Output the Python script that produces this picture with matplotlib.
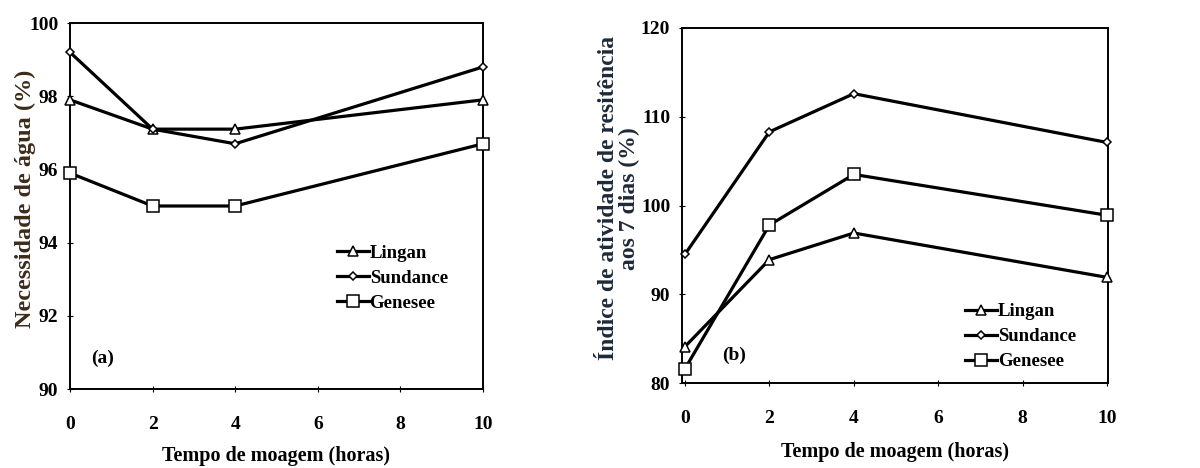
import matplotlib
matplotlib.use("Agg")
import matplotlib.pyplot as plt

plt.rcParams["font.family"] = ["Liberation Serif", "DejaVu Serif"]
plt.rcParams["font.weight"] = "bold"

# data
horas = [0, 2, 4, 10]
series = ["Lingan", "Sundance", "Genesee"]
agua_lingan = [97.9, 97.1, 97.1, 97.9]
agua_sundance = [99.2, 97.1, 96.7, 98.8]
agua_genesee = [95.9, 95.0, 95.0, 96.7]
iar_lingan = [84.1, 93.9, 96.9, 91.9]
iar_sundance = [94.5, 108.3, 112.6, 107.1]
iar_genesee = [81.6, 97.8, 103.5, 98.9]

mk = {"Lingan": dict(marker="^", ms=6.5), "Sundance": dict(marker="D", ms=4.5),
      "Genesee": dict(marker="s", ms=8)}

fig = plt.figure(figsize=(12, 4.68), dpi=100)
axA = fig.add_axes([70/1200, 1-389/468, 413/1200, 366/468])
axB = fig.add_axes([682/1200, 1-383/468, 426/1200, 355/468])

def panel(ax, vals, ylim, yticks, xlim, leg_xy):
    for name, v in zip(series, vals):
        ax.plot(horas, v, color="black", lw=2.3, mfc="white", mec="black", mew=1.1,
                label=name, clip_on=False, zorder=3, **mk[name])
    ax.set_xlim(*xlim); ax.set_ylim(*ylim)
    ax.set_xticks(range(0, 11, 2)); ax.set_yticks(yticks)
    ax.tick_params(axis="x", direction="inout", length=5, pad=17, labelsize=14)
    ax.tick_params(axis="y", direction="inout", length=5, pad=6, labelsize=14)
    for s in ax.spines.values():
        s.set_linewidth(1.4)
    ax.set_xlabel("Tempo de moagem (horas)", fontsize=14.5, fontweight="bold")
    ax.legend(loc="upper left", bbox_to_anchor=leg_xy, frameon=False, fontsize=13.5,
              handlelength=1.7, handletextpad=0.05, labelspacing=0.42,
              borderaxespad=0, borderpad=0)

panel(axA, [agua_lingan, agua_sundance, agua_genesee], (90, 100),
      range(90, 101, 2), (0, 10), (0.646, 0.395))
axA.set_ylabel("Necessidade de água (%)", fontsize=17.5, fontweight="bold", color="#3d2b1a")
axA.yaxis.set_label_coords(-0.082, 0.52)
axA.xaxis.set_label_coords(0.5, -0.155)
axA.text(0.05, 0.07, "(a)", transform=axA.transAxes, fontsize=14, fontweight="bold")

panel(axB, [iar_lingan, iar_sundance, iar_genesee], (80, 120),
      range(80, 121, 10), (-0.07, 10.02), (0.664, 0.225))
axB.set_ylabel("Índice de atividade de resitência\naos 7 dias (%)", fontsize=17,
               fontweight="bold", color="#1e2a38", linespacing=0.95)
axB.yaxis.set_label_coords(-0.099, 0.52)
axB.xaxis.set_label_coords(0.5, -0.165)
axB.text(0.095, 0.065, "(b)", transform=axB.transAxes, fontsize=14, fontweight="bold")

fig.savefig("out.png", dpi=100)
